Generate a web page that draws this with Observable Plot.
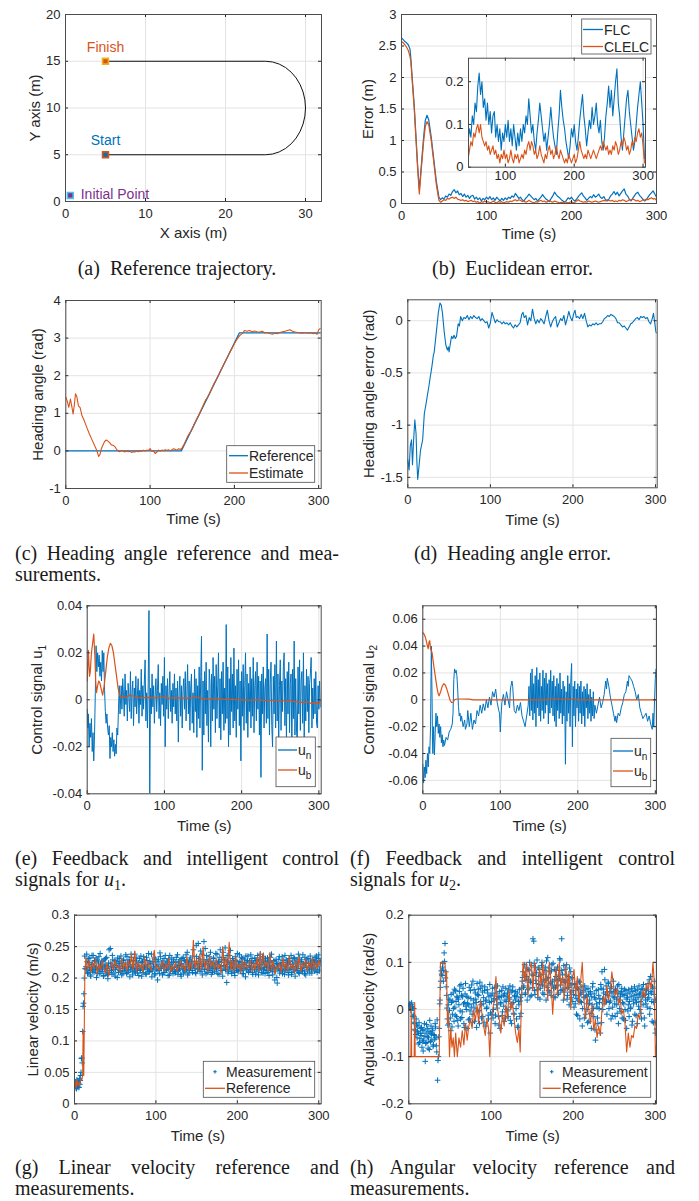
<!DOCTYPE html>
<html><head><meta charset="utf-8">
<script src="https://cdn.jsdelivr.net/npm/d3@7"></script>
<script src="https://cdn.jsdelivr.net/npm/@observablehq/plot@0.6"></script>
<style>
body{margin:0;background:#fff;}
#root{position:relative;width:699px;height:1201px;overflow:hidden;background:#fff;}
.cap{position:absolute;font-family:"Liberation Serif","Times New Roman",serif;font-size:20px;line-height:21px;color:#1a1a1a;white-space:nowrap;}
.cap sub{font-size:0.7em;line-height:0;vertical-align:-0.25em;}
</style></head>
<body><div id="root"></div>
<script>
// ---------------- DATA ----------------
// (a) reference trajectory
const trajA = [[5,5],[25,5],[25.868,5.076],[26.71,5.302],[27.5,5.67],[28.214,6.17],[28.83,6.786],[29.33,7.5],[29.698,8.29],[29.924,9.132],[30,10],[29.924,10.868],[29.698,11.71],[29.33,12.5],[28.83,13.214],[28.214,13.83],[27.5,14.33],[26.71,14.698],[25.868,14.924],[25,15],[5,15]];
const pointsA = [{name:"Finish",x:5,y:15},{name:"Start",x:5,y:5},{name:"Initial Point",x:0.6,y:0.65}];
const labelsA = [{name:"Finish",x:5,y:16.5},{name:"Start",x:5,y:6.5},{name:"Initial Point",x:1.9,y:0.75}];
const ticksAx = [0,10,20,30], ticksAy = [0,5,10,15,20];

// (b) Euclidean error
const flcEarly = [[0,2.63],[2,2.6],[4,2.57],[6,2.55],[8,2.52],[10,2.45],[11,2.3],[15,1.55],[19,0.6],[21,0.22],[23,0.55],[26,1.05],[28,1.32],[30,1.4],[32,1.33],[35,1.05],[38,0.7],[41,0.35],[44,0.1]];
const clelcEarly = [[0,2.57],[2,2.55],[4,2.52],[6,2.48],[8,2.43],[10,2.33],[11,2.25],[15,1.5],[19,0.55],[21,0.15],[23,0.5],[26,0.98],[28,1.22],[30,1.3],[32,1.25],[35,1.0],[38,0.65],[41,0.3],[44,0.05]];
const lateStartB = 46, lateStepB = 2;
const flcLate = [
0.06,0.09,0.07,0.12,0.1,0.15,0.13,0.19,0.22,0.17,
0.2,0.14,0.16,0.11,0.15,0.1,0.13,0.08,0.12,0.13,
0.07,0.1,0.06,0.09,0.04,0.08,0.06,0.1,0.07,0.11,
0.06,0.09,0.05,0.1,0.07,0.04,0.08,0.05,0.09,0.06,
0.1,0.08,0.12,0.1,0.16,0.12,0.08,0.1,0.06,0.04,
0.08,0.11,0.15,0.12,0.09,0.06,0.08,0.04,0.07,0.1,
0.14,0.1,0.07,0.05,0.03,0.08,0.12,0.18,0.14,0.11,
0.09,0.06,0.04,0.02,0.05,0.09,0.07,0.1,0.06,0.04,
0.07,0.11,0.14,0.17,0.12,0.09,0.05,0.08,0.11,0.09,
0.14,0.1,0.12,0.15,0.1,0.08,0.11,0.06,0.04,0.07,
0.12,0.15,0.19,0.14,0.18,0.12,0.16,0.2,0.23,0.15,
0.12,0.07,0.04,0.08,0.12,0.16,0.18,0.13,0.1,0.07,
0.04,0.06,0.1,0.14,0.17,0.2,0.15,0.1,0.02];
const clelcLate = [
0.02,0.04,0.06,0.05,0.08,0.07,0.09,0.1,0.08,0.1,
0.07,0.06,0.05,0.06,0.04,0.05,0.03,0.04,0.05,0.03,
0.04,0.02,0.03,0.01,0.03,0.02,0.04,0.02,0.03,0.01,
0.02,0.04,0.02,0.01,0.03,0.02,0.03,0.01,0.02,0.03,
0.02,0.04,0.03,0.05,0.06,0.04,0.06,0.05,0.03,0.04,
0.02,0.03,0.05,0.03,0.02,0.01,0.03,0.02,0.04,0.05,
0.03,0.04,0.02,0.03,0.05,0.03,0.02,0.04,0.03,0.02,
0.01,0.02,0.01,0.03,0.02,0.01,0.02,0.03,0.01,0.02,
0.04,0.06,0.04,0.03,0.02,0.03,0.02,0.04,0.03,0.02,
0.03,0.04,0.03,0.02,0.03,0.04,0.05,0.04,0.06,0.05,
0.04,0.05,0.03,0.04,0.03,0.05,0.04,0.06,0.05,0.03,
0.04,0.06,0.05,0.07,0.06,0.04,0.05,0.03,0.04,0.06,
0.05,0.07,0.06,0.08,0.09,0.07,0.08,0.05,0.01];
const ticksBx = [0,100,200,300], ticksBy = [0,0.5,1,1.5,2,2.5,3];
const ticksInsetX = [100,200,300], ticksInsetY = [0,0.1,0.2];

// (c) heading angle
const headRef = [[0,0],[137,0],[206,3.14],[303,3.14]];
const headEst = [[0,1.43],[2,1.3],[3.5,1.16],[5.5,1.38],[7,1.2],[8.7,0.98],[10,1.2],[11.5,1.52],[13,1.45],[15,1.2],[17,1.15],[19,0.95],[22,0.8],[25,0.62],[28,0.45],[31,0.3],[34,0.15],[37,0.0],[39,-0.15],[40.5,-0.1],[42,0.05],[44,0.15],[46,0.25],[48,0.29],[50,0.26],[52,0.22],[54,0.16],[56,0.15],[58,0.12],[60,0.05],[62,0.0],[64,-0.02],[66,0.01],[68,-0.01],[70,-0.03],[72,0.0],[74,-0.02],[76,-0.01],[78,-0.04],[80,-0.02],[82,-0.03],[84,0.0],[86,-0.02],[88,0.0],[90,-0.01],[92,0.02],[94,0.0],[96,0.02],[98,0.01],[100,0.06],[102,-0.01],[104,0.0],[106,-0.07],[108,-0.03],[110,0.02],[112,0.0],[114,0.02],[116,0.01],[118,0.03],[120,0.01],[122,0.03],[124,0.0],[126,0.03],[128,0.06],[130,0.04],[132,0.02],[134,0.06],[136,0.04],[138,0.08],[140,0.16],[142,0.26],[144,0.36],[146,0.44],[148,0.5],[150,0.58],[152,0.7],[154,0.78],[156,0.88],[158,0.96],[160,1.06],[162,1.16],[164,1.26],[166,1.36],[168,1.42],[170,1.5],[172,1.6],[174,1.7],[176,1.8],[178,1.88],[180,1.96],[182,2.05],[184,2.15],[186,2.24],[188,2.33],[190,2.42],[192,2.5],[194,2.6],[196,2.68],[198,2.76],[200,2.85],[202,2.93],[204,3.0],[206,3.06],[208,3.1],[210,3.14],[212,3.2],[215,3.18],[218,3.2],[221,3.17],[224,3.19],[227,3.17],[230,3.16],[233,3.18],[236,3.14],[239,3.15],[242,3.12],[245,3.1],[248,3.13],[251,3.12],[254,3.15],[257,3.17],[260,3.18],[263,3.2],[266,3.22],[269,3.18],[272,3.16],[275,3.15],[278,3.14],[281,3.13],[284,3.15],[287,3.13],[290,3.14],[293,3.12],[296,3.13],[298,3.1],[300,3.22],[302,3.26]];
const ticksCx = [0,100,200,300], ticksCy = [-1,0,1,2,3,4];

// (d) heading angle error
const headErr = [[0,-1.33],[1.6,-1.43],[3,-1.2],[4.5,-1.14],[5.7,-1.38],[7,-1.15],[8.5,-0.95],[10,-1.08],[11,-1.35],[12,-1.52],[13.5,-1.4],[15.4,-1.24],[17,-1.18],[18,-1.14],[20,-0.89],[22,-0.8],[24,-0.7],[25.5,-0.63],[27,-0.55],[29,-0.45],[31,-0.33],[32,-0.3],[34,-0.15],[35.6,-0.03],[37,0.08],[39,0.17],[40.5,0.15],[42,0.07],[44,-0.1],[46,-0.23],[47,-0.26],[48,-0.28],[49,-0.25],[50,-0.3],[51.5,-0.22],[53,-0.15],[54.5,-0.17],[56,-0.14],[57.5,-0.17],[59,-0.15],[61,-0.03],[62.5,-0.05],[64,0.04],[66,0.0],[68,0.03],[70,0.02],[72,0.05],[74,0.01],[76,0.04],[78,0.02],[80,0.05],[82,0.03],[84,0.02],[86,0.04],[88,0.0],[90,0.02],[92,0.0],[94,-0.02],[96,-0.01],[98,-0.07],[100,-0.02],[102,0.08],[104,0.03],[106,-0.02],[108,0.01],[110,-0.01],[112,-0.01],[114,-0.03],[116,-0.01],[118,-0.03],[120,-0.02],[122,-0.04],[124,-0.02],[126,-0.05],[128,-0.07],[130,-0.04],[132,-0.06],[134,-0.04],[136,-0.02],[138,0.06],[139.5,0.08],[141,0.03],[143,0.05],[145,-0.04],[147,0.03],[149,0.0],[151,0.11],[153,0.02],[155,-0.03],[157,0.01],[159,-0.02],[161,0.02],[163,0.0],[165,-0.03],[167,0.04],[169,0.1],[171,0.0],[173,-0.06],[175,-0.01],[177,0.02],[179,0.04],[181,-0.06],[183,-0.02],[185,0.02],[187,0.0],[189,0.05],[191,-0.04],[193,0.02],[195,0.09],[197,0.03],[199,0.0],[201,0.07],[202.5,0.1],[204,0.03],[206,0.04],[208,0.02],[210,0.06],[212,0.02],[214,0.07],[216,0.0],[218,-0.06],[220,-0.04],[222,-0.05],[224,-0.03],[226,-0.04],[228,-0.02],[230,-0.04],[232,-0.03],[234,-0.03],[236,-0.01],[238,0.02],[240,0.03],[242,0.05],[244,0.04],[246,0.06],[248,0.05],[250,0.04],[252,0.02],[254,-0.02],[256,-0.02],[258,-0.04],[260,-0.06],[262,-0.05],[264,-0.07],[266,-0.09],[268,-0.06],[270,-0.03],[272,-0.02],[274,0.0],[276,0.02],[278,0.03],[280,0.01],[282,0.04],[284,0.03],[286,0.04],[288,0.02],[290,0.03],[292,-0.01],[294,-0.03],[296,0.02],[297.5,0.07],[299,-0.02],[300.5,-0.11],[302,-0.12]];
const ticksDx = [0,100,200,300], ticksDy = [-1.5,-1,-0.5,0];

// (e) control signal u1
const u1nEarly = [[0,-0.004],[1,-0.012],[1.5,-0.006],[2.5,-0.02],[3.5,-0.01],[4.5,-0.016],[5.5,-0.008],[6.5,-0.022],[7.5,-0.014],[8.5,-0.026],[9.5,-0.015],[10.5,0.003],[11.5,0.023],[12.5,0.012],[13.5,0.02],[14.5,0.014],[15.5,0.019],[16.5,0.01],[17.5,0.016],[18.5,0.008],[19.5,0.021],[20.5,0.012],[21.5,0.02],[22.5,0.004],[23.5,-0.005],[24.5,-0.01],[25.5,-0.006],[26.5,-0.012],[27.5,-0.015],[28.5,-0.011],[29.5,-0.025],[30.5,-0.016],[31.5,-0.02],[32.5,-0.014],[33.5,-0.022],[34.5,-0.017],[35.5,-0.024],[36.5,-0.019],[37.5,-0.023],[38.5,-0.012],[39.5,-0.015],[40.5,-0.004],[41.5,0.006],[42.5,-0.006]];
const u1nStart = 44, u1nStep = 1;
const u1nLate = [
0.006,-0.004,0.009,0.002,-0.007,0.011,-0.002,0.004,-0.009,0.007,
0.001,-0.005,0.012,-0.008,0.003,0.008,-0.011,0.005,-0.003,0.01,
-0.006,0.002,0.009,-0.01,0.004,-0.002,0.013,-0.007,0.006,-0.004,
0.008,0.017,-0.009,0.003,-0.012,0.007,0.038,-0.04,0.005,-0.006,
0.011,-0.003,0.006,-0.01,0.002,0.009,-0.005,0.004,0.015,-0.008,
0.003,-0.011,0.007,-0.002,0.01,-0.007,0.018,-0.02,0.006,-0.004,
0.009,-0.008,0.002,0.012,-0.005,0.004,-0.01,0.007,-0.003,0.011,
-0.006,0.005,-0.009,0.008,-0.018,0.003,0.01,-0.007,0.006,-0.012,
0.004,0.009,-0.004,0.012,-0.009,0.002,0.015,-0.006,0.008,-0.013,
0.005,0.011,-0.01,0.003,-0.014,0.013,-0.005,0.009,-0.016,0.006,
-0.008,0.014,-0.012,0.01,0.027,-0.03,0.008,-0.015,0.012,-0.006,
0.016,-0.011,0.004,-0.018,0.013,0.007,-0.02,0.011,-0.009,0.018,
-0.004,0.01,-0.014,0.015,-0.008,0.006,0.02,-0.012,0.009,-0.017,
0.012,-0.006,0.016,-0.013,0.005,-0.01,0.032,-0.008,0.014,-0.02,
0.009,-0.015,0.018,-0.005,0.011,-0.012,0.022,-0.009,0.006,-0.016,
0.013,-0.004,0.017,-0.011,0.008,-0.026,0.012,-0.007,0.015,-0.013,
0.006,0.02,-0.01,0.011,-0.016,0.007,-0.005,0.014,-0.012,0.009,
-0.007,0.018,-0.014,0.006,0.012,-0.009,0.016,-0.004,0.01,-0.015,
0.008,-0.033,0.011,-0.006,0.014,-0.012,0.005,0.009,-0.01,0.028,
-0.008,0.013,-0.015,0.007,0.016,-0.011,-0.02,0.01,-0.006,0.015,
-0.012,0.025,-0.009,0.011,-0.016,0.006,0.017,-0.013,0.008,-0.005,
0.014,0.02,-0.011,0.009,-0.017,0.012,-0.006,0.016,-0.014,0.007,
0.011,-0.022,0.013,-0.008,0.025,-0.015,0.009,-0.012,-0.02,0.014,
-0.006,0.017,-0.013,0.008,0.012,-0.01,0.02,-0.016,0.006,-0.009,
0.013,-0.005,0.01,-0.014,0.007,0.011,0.018,-0.012,0.005,-0.008,
0.009,-0.006,0.012,-0.01,-0.012,0.006,-0.004,0.008,-0.003];
const u1b = [[0,0.008],[1.5,0.021],[3,0.01],[4,0.012],[5.5,0.02],[7,0.024],[8.5,0.028],[10,0.018],[11,0.008],[12,0.003],[13.5,0.006],[15,0.008],[16.5,0.007],[18.5,0.004],[20,0.002],[22,0.006],[24,0.012],[26,0.018],[28,0.022],[30,0.024],[32,0.023],[34,0.02],[36,0.015],[38,0.01],[40,0.005],[42,0.002],[44,0.001],[46,0.0012],[50,0.001],[55,0.002],[60,0.0015],[65,0.001],[70,0.0008],[80,0.001],[90,0.0008],[100,0.0012],[105,0.0006],[110,0.0008],[120,0.0008],[130,0.0006],[140,0.0012],[145,0.001],[150,0.0004],[160,0.0004],[170,0.0003],[180,0.0002],[190,0.0002],[200,0.0],[210,-0.0002],[220,0.0],[230,-0.0003],[240,-0.0002],[250,-0.0005],[260,-0.0003],[270,-0.0008],[280,-0.0012],[285,-0.0008],[290,-0.0015],[295,-0.0012],[300,-0.0016],[303,0.0]];
const ticksEx = [0,100,200,300], ticksEy = [-0.04,-0.02,0,0.02,0.04];

// (f) control signal u2
const u2n = [[0,-0.048],[1,-0.062],[2,-0.05],[3,-0.058],[4,-0.045],[5,-0.055],[6,-0.04],[7,-0.05],[8,-0.035],[9,-0.04],[10,-0.02],[11,0.04],[12,0.0],[12.5,-0.03],[13,-0.04],[14,-0.02],[15,-0.041],[16,-0.025],[17,-0.01],[18,-0.02],[19,-0.012],[20,-0.025],[21,-0.018],[22,-0.028],[23,-0.02],[24,-0.032],[25,-0.026],[26,-0.035],[27,-0.03],[28,-0.034],[30,-0.028],[32,-0.03],[34,-0.024],[36,-0.022],[38,-0.018],[39,-0.01],[40,0.015],[41,0.023],[42,0.02],[43,0.022],[44,0.018],[45,0.008],[46,-0.005],[47,-0.012],[48,-0.01],[49,-0.016],[50,-0.012],[52,-0.02],[54,-0.015],[55,-0.022],[57,-0.018],[58,-0.008],[60,-0.02],[62,-0.01],[64,-0.022],[66,-0.015],[68,-0.018],[70,-0.008],[72,-0.012],[74,-0.004],[76,-0.01],[78,-0.003],[80,-0.008],[82,0.0],[84,-0.006],[86,0.002],[88,-0.004],[90,0.006],[92,0.002],[94,0.008],[96,-0.002],[98,-0.008],[99,-0.01],[100,-0.024],[101,-0.012],[102,-0.002],[104,0.004],[106,-0.004],[108,0.006],[110,0.0],[112,-0.006],[113,0.008],[115,0.014],[116,0.01],[117,0.0],[118,-0.008],[120,-0.01],[122,-0.004],[124,-0.008],[126,-0.002],[128,-0.012],[130,-0.016],[132,-0.02],[134,-0.012],[136,-0.004],
[137,0.01],[138,-0.012],[139,0.02],[140,-0.008],[141,0.023],[142,-0.015],[143,0.012],[144,-0.01],[145,0.018],[146,-0.02],[147,0.024],[148,-0.006],[149,0.015],[150,-0.012],[151,0.02],[152,-0.016],[153,0.01],[154,-0.008],[155,0.022],[156,-0.014],[157,0.016],[158,-0.01],[159,0.02],[160,-0.004],[161,0.012],[162,-0.018],[163,0.015],[164,-0.01],[165,0.022],[166,-0.006],[167,0.014],[168,-0.012],[169,0.018],[170,-0.016],[171,0.01],[172,-0.02],[173,0.016],[174,-0.008],[175,0.012],[176,-0.014],[177,0.02],[178,-0.01],[179,0.008],[180,-0.018],[181,0.014],[182,-0.012],[183,0.01],[184,-0.048],[185,0.006],[186,-0.016],[187,0.018],[188,-0.01],[189,0.012],[190,-0.02],[191,0.016],[192,0.027],[193,-0.035],[194,0.01],[195,-0.012],[196,0.014],[197,-0.02],[198,0.008],[199,-0.006],[200,0.012],[201,-0.016],[202,0.01],[203,-0.01],[204,0.014],[205,-0.018],[206,0.006],[207,-0.012],[208,0.01],[209,-0.02],[210,0.008],[211,-0.006],[212,0.012],[213,-0.014],[214,0.004],[215,-0.01],[216,0.008],[217,-0.016],[218,0.002],[219,-0.012],[220,0.006],[221,-0.014],[222,-0.004],
[224,-0.01],[226,-0.004],[228,0.002],[230,-0.006],[232,-0.002],[234,0.004],[236,0.014],[237,0.008],[238,0.016],[240,0.01],[242,0.002],[244,-0.004],[246,-0.01],[248,-0.016],[249,-0.012],[250,-0.017],[252,-0.01],[254,-0.012],[256,-0.006],[258,-0.002],[260,0.004],[262,0.006],[264,0.014],[265,0.01],[266,0.018],[268,0.016],[270,0.014],[272,0.01],[274,0.006],[276,0.0],[278,0.004],[280,-0.006],[282,-0.01],[284,-0.014],[286,-0.012],[288,-0.01],[290,-0.016],[292,-0.012],[294,-0.018],[296,-0.022],[297,-0.01],[298,-0.02],[299,0.0],[300,0.016],[301,0.023],[302,0.02]];
const u2b = [[0,0.05],[1.5,0.049],[3,0.047],[4.5,0.044],[6,0.04],[7,0.038],[8,0.043],[9,0.044],[10,0.038],[12,0.035],[14,0.026],[16,0.018],[18,0.01],[20,0.004],[21,0.003],[23,0.006],[25,0.01],[27,0.012],[29,0.011],[31,0.008],[33,0.004],[35,0.0],[37,-0.002],[39,-0.002],[41,0.0],[44,0.0006],[50,0.0006],[60,0.0005],[65,0.0],[160,0.0],[165,0.001],[170,0.0],[175,0.001],[180,0.0],[185,0.001],[190,0.0],[195,0.001],[200,0.0],[302,0.0]];
const ticksFx = [0,100,200,300], ticksFy = [-0.06,-0.04,-0.02,0,0.02,0.04,0.06];

// (g) linear velocity
const vMeasEarly = [[0,0.03],[0.5,0.025],[1,0.035],[1.5,0.028],[2,0.032],[2.5,0.024],[3,0.038],[3.5,0.03],[4,0.027],[4.5,0.036],[5,0.033],[5.5,0.026],[6,0.04],[6.5,0.031],[7,0.037],[7.5,0.045],[8,0.05],[8.5,0.072],[9,0.073],[9.5,0.065],[10,0.115],[10.5,0.155],[11,0.16],[11.5,0.175],[12,0.2],[12.5,0.235],[13,0.215]];
const vMeasStart = 14, vMeasStep = 1;
const vMeas = [
0.218,0.238,0.207,0.225,0.212,0.232,0.203,0.221,0.214,0.236,
0.209,0.226,0.216,0.201,0.229,0.213,0.234,0.207,0.222,0.218,
0.211,0.227,0.204,0.219,0.231,0.208,0.215,0.199,0.224,0.212,
0.247,0.218,0.206,0.229,0.214,0.221,0.203,0.226,0.217,0.232,
0.209,0.223,0.212,0.235,0.205,0.219,0.228,0.211,0.216,0.237,
0.207,0.224,0.213,0.229,0.202,0.218,0.233,0.21,0.222,0.215,
0.238,0.208,0.227,0.214,0.219,0.204,0.231,0.212,0.225,0.216,
0.209,0.234,0.217,0.221,0.206,0.228,0.213,0.239,0.21,0.223,
0.215,0.202,0.226,0.218,0.232,0.207,0.221,0.214,0.197,0.229,
0.212,0.24,0.216,0.224,0.205,0.219,0.231,0.209,0.222,0.213,
0.227,0.204,0.218,0.236,0.211,0.225,0.215,0.207,0.229,0.217,
0.21,0.233,0.219,0.206,0.226,0.214,0.222,0.203,0.231,0.216,
0.208,0.228,0.213,0.237,0.218,0.205,0.224,0.212,0.232,0.219,
0.226,0.209,0.245,0.216,0.221,0.207,0.234,0.214,0.255,0.222,
0.211,0.243,0.218,0.205,0.229,0.258,0.214,0.223,0.236,0.209,
0.227,0.213,0.219,0.241,0.206,0.224,0.216,0.232,0.21,0.221,
0.215,0.238,0.207,0.226,0.219,0.245,0.212,0.229,0.203,0.233,
0.22,0.248,0.214,0.193,0.227,0.211,0.236,0.218,0.225,0.207,
0.231,0.216,0.222,0.204,0.228,0.213,0.239,0.21,0.219,0.226,
0.212,0.233,0.207,0.221,0.215,0.229,0.202,0.224,0.217,0.235,
0.209,0.226,0.214,0.219,0.231,0.206,0.223,0.213,0.228,0.218,
0.211,0.236,0.205,0.222,0.216,0.229,0.209,0.234,0.214,0.221,
0.207,0.227,0.218,0.232,0.212,0.204,0.225,0.215,0.238,0.21,
0.219,0.228,0.197,0.213,0.223,0.192,0.216,0.23,0.208,0.221,
0.214,0.234,0.211,0.225,0.206,0.219,0.229,0.213,0.222,0.205,
0.227,0.216,0.236,0.209,0.221,0.214,0.231,0.203,0.224,0.218,
0.212,0.238,0.207,0.226,0.215,0.229,0.21,0.222,0.217,0.233,
0.205,0.224,0.213,0.231,0.219,0.208,0.227,0.214,0.222,0.216,
0.229,0.211,0.225,0.235,0.209,0.221,0.237,0.214,0.226];
const vMeas2Start = 14.5, vMeas2Step = 1;
const vMeas2 = [
0.214,0.226,0.209,0.231,0.217,0.205,0.222,0.236,0.211,0.219,
0.228,0.213,0.232,0.218,0.207,0.224,0.215,0.239,0.21,0.227,
0.216,0.203,0.229,0.214,0.221,0.233,0.206,0.219,0.245,0.209,
0.223,0.212,0.236,0.217,0.208,0.228,0.214,0.22,0.201,0.226,
0.218,0.231,0.21,0.224,0.215,0.207,0.229,0.216,0.222,0.212,
0.234,0.209,0.219,0.226,0.213,0.238,0.217,0.205,0.228,0.211,
0.221,0.215,0.232,0.208,0.224,0.218,0.212,0.235,0.203,0.226,
0.214,0.229,0.219,0.207,0.233,0.216,0.222,0.21,0.227,0.213,
0.238,0.211,0.224,0.216,0.205,0.23,0.218,0.226,0.212,0.219,
0.207,0.234,0.215,0.222,0.227,0.209,0.218,0.236,0.213,0.224,
0.216,0.23,0.205,0.221,0.214,0.232,0.219,0.226,0.211,0.208,
0.225,0.217,0.237,0.212,0.22,0.229,0.206,0.223,0.215,0.233,
0.218,0.21,0.226,0.214,0.241,0.221,0.208,0.229,0.216,0.224,
0.212,0.235,0.219,0.227,0.209,0.252,0.223,0.215,0.231,0.218,
0.226,0.211,0.238,0.219,0.222,0.214,0.247,0.207,0.229,0.216,
0.221,0.234,0.212,0.226,0.218,0.209,0.231,0.215,0.224,0.239,
0.213,0.222,0.227,0.206,0.233,0.218,0.225,0.212,0.241,0.219,
0.229,0.214,0.222,0.236,0.208,0.225,0.217,0.244,0.211,0.223,
0.216,0.228,0.209,0.234,0.219,0.226,0.212,0.221,0.237,0.214,
0.225,0.218,0.231,0.207,0.222,0.216,0.235,0.213,0.228,0.21,
0.22,0.214,0.237,0.225,0.209,0.223,0.217,0.232,0.206,0.227,
0.218,0.229,0.213,0.221,0.238,0.215,0.224,0.208,0.226,0.217,
0.231,0.212,0.222,0.209,0.227,0.219,0.233,0.214,0.22,0.205,
0.226,0.217,0.211,0.229,0.201,0.222,0.215,0.234,0.212,0.224,
0.219,0.207,0.228,0.216,0.236,0.213,0.221,0.225,0.209,0.231,
0.214,0.222,0.206,0.227,0.218,0.233,0.211,0.224,0.216,0.229,
0.221,0.209,0.232,0.215,0.226,0.212,0.237,0.219,0.207,0.224,
0.217,0.23,0.211,0.223,0.214,0.235,0.22,0.208,0.228,0.216,
0.222,0.233,0.213,0.226,0.218,0.231,0.211,0.228];
const vRefEarly = [[0,0.03],[1,0.035],[2,0.025],[3,0.038],[4,0.03],[5,0.033],[6,0.028],[7,0.036],[8,0.04],[9,0.038],[10,0.045],[10.6,0.117],[11.4,0.045],[12.7,0.207]];
const vRefStart = 14, vRefStep = 2;
const vRef = [
0.234,0.212,0.228,0.209,0.226,0.215,0.231,0.206,0.222,0.213,
0.228,0.217,0.208,0.224,0.203,0.219,0.226,0.212,0.229,0.216,
0.22,0.209,0.232,0.214,0.225,0.211,0.229,0.216,0.238,0.213,
0.243,0.21,0.226,0.215,0.222,0.209,0.233,0.214,0.227,0.218,
0.212,0.23,0.244,0.214,0.221,0.212,0.218,0.228,0.211,0.223,
0.215,0.232,0.209,0.22,0.213,0.226,0.211,0.218,0.229,0.214,
0.222,0.21,0.235,0.212,0.226,0.214,0.26,0.216,0.23,0.211,
0.238,0.213,0.25,0.215,0.228,0.209,0.236,0.218,0.226,0.212,
0.231,0.215,0.222,0.208,0.25,0.214,0.234,0.211,0.257,0.213,
0.228,0.21,0.235,0.216,0.222,0.208,0.23,0.213,0.226,0.215,
0.219,0.229,0.21,0.224,0.213,0.233,0.211,0.242,0.214,0.24,
0.218,0.226,0.21,0.241,0.212,0.228,0.206,0.22,0.214,0.225,
0.209,0.232,0.213,0.227,0.211,0.236,0.215,0.222,0.208,0.229,
0.213,0.235,0.21,0.224,0.216,0.231,0.211,0.226,0.214,0.233,
0.212,0.227,0.215,0.229,0.218];
const ticksGx = [0,100,200,300], ticksGy = [0,0.05,0.1,0.15,0.2,0.25,0.3];

// (h) angular velocity
const wMeasStart = 0, wMeasStep = 1;
const wMeas = [
0.008,0.012,0.003,0.01,0.006,-0.015,0.002,-0.03,-0.045,-0.02,
-0.06,-0.035,-0.05,-0.07,-0.04,-0.055,-0.08,-0.045,-0.065,-0.03,
-0.11,-0.05,-0.07,-0.04,-0.06,-0.085,-0.05,-0.035,-0.065,-0.045,
-0.075,-0.055,-0.03,-0.06,-0.09,-0.15,-0.1,-0.04,0.02,0.06,
0.075,0.09,0.06,0.12,0.14,0.08,0.03,-0.02,0.01,-0.03,
0.02,-0.045,0.015,-0.01,0.035,-0.025,0.005,0.04,-0.015,0.025,
-0.035,0.01,0.05,-0.02,0.03,-0.005,0.045,-0.03,0.015,0.055,
0.0,-0.04,0.025,0.01,-0.02,0.04,0.005,-0.01,0.06,0.02,
-0.025,0.035,0.015,0.055,-0.005,0.03,-0.03,0.045,0.01,0.05,
-0.015,0.025,0.04,-0.035,0.02,0.005,0.035,-0.02,0.015,-0.05,
0.03,-0.01,0.045,0.0,0.02,-0.03,0.035,0.01,0.05,-0.015,
0.025,-0.04,0.015,0.04,-0.005,0.03,-0.025,0.02,0.045,0.0,
0.035,-0.015,0.025,0.05,0.005,-0.03,0.04,0.015,-0.01,0.03,
0.02,-0.02,0.035,-0.035,0.01,-0.015,0.025,0.045,0.06,0.08,
0.05,0.095,0.035,0.07,0.02,0.085,0.045,0.1,0.06,0.03,
0.075,0.15,0.145,0.04,0.09,0.055,0.105,0.025,0.07,0.085,
0.045,0.06,0.1,0.035,0.075,0.05,0.09,0.02,0.065,0.11,
0.04,0.08,0.055,0.03,0.095,0.06,0.045,0.085,0.025,0.07,
0.05,0.09,0.035,0.065,0.105,0.04,0.15,0.075,0.02,0.06,
0.085,0.045,0.095,0.03,0.07,0.01,0.055,0.08,0.025,0.065,
0.04,0.005,0.055,0.03,-0.01,0.045,0.02,0.06,-0.02,0.035,
0.015,-0.035,0.04,0.025,0.05,-0.01,0.03,0.0,0.045,-0.025,
0.02,0.035,-0.04,0.01,0.055,-0.015,0.025,-0.065,0.04,0.005,
-0.03,0.03,0.015,-0.05,0.045,0.08,0.0,0.035,0.085,0.02,
0.05,-0.01,0.03,0.055,0.015,0.045,-0.02,0.035,0.005,0.06,
0.025,-0.015,0.04,0.01,0.05,-0.03,0.02,0.035,-0.005,0.045,
0.015,-0.02,0.03,0.0,0.04,-0.04,0.025,0.01,-0.015,0.035,
0.005,0.045,-0.025,0.02,0.03,-0.01,0.04,0.015,-0.03,0.025,
0.05,0.0,0.035,-0.02,0.045,0.01,0.03,-0.035,0.02,0.04,
0.005,0.055,0.025,-0.01,0.07,0.035,-0.025,0.045,0.015,0.06,
-0.05,0.02,-0.04];
const wMeas2Start = 0.5, wMeas2Step = 1;
const wMeas2 = [
0.007,0.011,-0.002,0.014,0.003,-0.012,-0.027,-0.042,-0.053,-0.033,
-0.047,-0.073,-0.028,-0.062,-0.051,-0.038,-0.067,-0.088,-0.043,-0.057,
-0.072,-0.032,-0.058,-0.082,-0.047,-0.023,-0.068,-0.052,-0.041,-0.078,
-0.053,-0.063,-0.037,-0.077,-0.022,-0.108,-0.058,0.012,0.047,0.082,
0.072,0.098,0.083,0.102,0.067,0.048,0.003,-0.033,0.022,-0.002,
-0.018,0.032,-0.037,0.018,0.002,0.043,-0.012,0.017,0.028,-0.023,
0.022,0.038,-0.003,0.053,-0.017,0.027,0.012,-0.038,0.033,0.007,
0.028,0.013,-0.022,0.047,-0.003,0.023,0.052,-0.028,0.012,0.042,
0.003,0.022,-0.038,0.032,0.043,-0.002,0.058,0.017,-0.018,0.037,
0.012,-0.027,0.048,0.018,0.002,0.042,-0.012,0.027,0.053,-0.007,
0.017,0.033,-0.018,0.023,0.047,-0.012,0.022,0.003,0.028,-0.033,
0.038,0.012,0.027,-0.013,0.048,0.007,0.033,-0.018,0.017,0.028,
-0.003,0.043,0.022,-0.023,0.037,0.012,0.048,-0.008,0.027,0.038,
0.002,0.028,-0.038,0.017,0.042,0.018,-0.008,0.032,0.068,0.047,
0.073,0.032,0.062,0.088,0.042,0.063,0.082,0.027,0.057,0.093,
0.047,0.072,0.098,0.032,0.062,0.078,0.042,0.088,0.053,0.022,
0.073,0.093,0.052,0.063,0.032,0.083,0.062,0.103,0.047,0.068,
0.088,0.037,0.058,0.082,0.052,0.098,0.027,0.063,0.047,0.083,
0.062,0.032,0.073,0.108,0.052,0.083,0.042,0.063,0.093,0.037,
0.057,0.073,0.022,0.062,0.047,0.088,0.037,0.052,0.068,0.017,
0.032,0.053,0.012,0.047,0.023,-0.013,0.042,0.058,0.017,0.032,
0.048,0.002,0.037,-0.018,0.027,0.043,0.012,-0.028,0.032,0.013,
0.038,-0.008,0.027,0.048,0.002,0.033,-0.043,0.022,0.012,-0.018,
0.042,0.002,0.023,0.053,-0.028,0.022,0.043,0.012,0.063,0.032,
0.017,0.038,0.058,0.002,0.037,0.018,0.048,-0.013,0.027,0.038,
0.012,0.043,0.022,-0.008,0.033,0.053,0.002,0.027,0.038,-0.018,
0.032,0.012,0.043,-0.023,0.022,0.033,-0.003,0.042,0.017,0.002,
0.027,-0.033,0.038,0.012,0.048,0.022,-0.013,0.032,0.043,0.007,
0.033,0.017,-0.008,0.042,0.027,0.053,-0.018,0.032,0.012,0.043,
0.022,0.033,0.063,0.002,0.038,0.017,0.048,-0.028,0.032,0.022,
-0.028,-0.043];
const wRef = [[0,-0.1],[2.5,-0.1],[3,0.01],[3.5,-0.1],[6.5,-0.1],[7.2,0.015],[7.8,-0.1],[37,-0.1],[38.5,0.1],[44,0.1],[45,0.06],[46,0.08],[47,-0.03],[48,0.0],[49.5,-0.1],[51,-0.04],[52.5,-0.08],[54,-0.06],[55.5,-0.1],[57,-0.05],[59,-0.1],[61,-0.06],[63,-0.08],[65,-0.045],[67,-0.075],[69,-0.03],[71,-0.065],[73,-0.035],[75,-0.02],[77,-0.04],[79,0.0],[81,-0.025],[83,0.01],[85,-0.03],[87,0.02],[89,-0.01],[91,-0.035],[93,-0.055],[95,-0.02],[97,-0.04],[98.5,-0.1],[100,-0.03],[102,0.0],[104,0.02],[106,0.07],[108,0.0],[110,-0.02],[112,-0.05],[114,-0.01],[116,-0.035],[118,0.01],[120,-0.02],[122,0.04],[124,0.0],[126,0.015],[128,-0.02],[130,-0.05],[132,-0.07],[134,-0.04],[135.5,-0.09],[137,0.02],[139,0.1],[141,0.06],[143,0.1],[145,0.03],[147,0.085],[149,0.1],[151,0.04],[153,0.1],[155,0.06],[157,0.025],[159,0.09],[161,0.05],[163,0.1],[165,0.04],[167,0.085],[169,0.02],[171,0.1],[173,0.06],[175,-0.01],[177,0.05],[179,0.09],[181,0.03],[183,0.1],[185,0.05],[187,0.07],[189,0.02],[191,0.095],[193,0.04],[195,0.08],[197,0.0],[199,0.065],[201,0.085],[203,0.03],[205,0.07],[207,0.01],[209,0.06],[211,0.1],[213,0.02],[215,-0.02],[217,0.03],[219,0.0],[221,-0.03],[223,0.01],[225,-0.045],[227,-0.02],[229,-0.06],[231,-0.035],[233,-0.055],[235,0.0],[237,0.03],[239,0.01],[241,0.05],[243,0.02],[245,0.04],[247,0.08],[249,0.05],[251,0.03],[253,0.045],[255,0.01],[257,0.025],[259,-0.01],[261,0.0],[263,-0.03],[265,-0.09],[267,-0.05],[269,-0.08],[271,-0.055],[273,-0.06],[275,-0.035],[277,-0.04],[279,-0.01],[281,-0.02],[283,0.02],[285,0.04],[287,0.025],[289,0.055],[291,0.04],[293,0.06],[295,0.045],[297,0.1],[298.5,0.06],[300,-0.1],[302,-0.06]];
const ticksHx = [0,100,200,300], ticksHy = [-0.2,-0.1,0,0.1,0.2];

// ---------------- DRAWING ----------------
const BLUE = "#0072BD", ORANGE = "#D95319", PURPLE = "#7E2F8E", YELLOW = "#EDB120", CYAN = "#4DBEEE";
const GRID = "#e3e3e3", AXIS = "#262626", FRAME = "#4d4d4d";
const FONT = "'Liberation Sans', Arial, Helvetica, sans-serif";
const root = document.getElementById("root");
const series = (vals, t0, step) => vals.map((v, i) => [t0 + i * step, v]);
const X = d => d[0], Y = d => d[1];

function panel(c) {
  const [x0, y0, x1, y1] = c.frame;
  const mL = x0 - c.left, mT = y0 - c.top, mR = c.left + c.width - x1, mB = c.top + c.height - y1;
  const ih = y1 - y0, iw = x1 - x0, tl = 3;
  const fmt = d => String(d);
  const m = [];
  if (c.bg) m.push(Plot.frame({fill: c.bg}));
  m.push(Plot.ruleX(c.xTicks, {x: d => d, stroke: GRID}));
  m.push(Plot.ruleY(c.yTicks, {y: d => d, stroke: GRID}));
  m.push(...c.marks);
  m.push(Plot.tickX(c.xTicks, {x: d => d, stroke: AXIS, insetTop: ih - tl}));
  m.push(Plot.tickX(c.xTicks, {x: d => d, stroke: AXIS, insetBottom: ih - tl}));
  m.push(Plot.tickY(c.yTicks, {y: d => d, stroke: AXIS, insetRight: iw - tl}));
  m.push(Plot.tickY(c.yTicks, {y: d => d, stroke: AXIS, insetLeft: iw - tl}));
  m.push(Plot.frame({stroke: FRAME}));
  m.push(Plot.axisX({ticks: c.xTicks, tickSize: 0, tickPadding: c.padX ?? 7, tickFormat: fmt, label: null}));
  m.push(Plot.axisY({ticks: c.yTicks, tickSize: 0, tickPadding: c.padY ?? 5, tickFormat: fmt, label: null}));
  if (c.xLabel) m.push(Plot.text([c.xLabel], {frameAnchor: "bottom", dy: c.xOff, text: d => d, fontSize: 15, textAnchor: "middle", lineAnchor: "middle"}));
  if (c.yLabel) m.push(Plot.text([c.yLabel], {frameAnchor: "left", dx: -c.yOff, text: d => d, fontSize: 15, rotate: -90, textAnchor: "middle", lineAnchor: "middle"}));
  const svg = Plot.plot({
    width: c.width, height: c.height,
    marginLeft: mL, marginRight: mR, marginTop: mT, marginBottom: mB,
    x: {domain: c.xDomain, label: null}, y: {domain: c.yDomain, label: null},
    style: {fontFamily: FONT, fontSize: "13px", color: AXIS, background: "transparent", overflow: "visible"},
    marks: m
  });
  svg.style.position = "absolute";
  svg.style.left = c.left + "px";
  svg.style.top = c.top + "px";
  root.appendChild(svg);
  return {svg, left: c.left, top: c.top};
}

function legend(p, box, items) {
  const g = d3.select(p.svg).append("g").attr("font-family", FONT).attr("font-size", 14)
    .attr("fill", AXIS).attr("text-anchor", "start");
  g.append("rect").attr("x", box[0] - p.left).attr("y", box[1] - p.top)
    .attr("width", box[2] - box[0]).attr("height", box[3] - box[1])
    .attr("fill", "white").attr("stroke", FRAME).attr("stroke-width", 0.8);
  for (const it of items) {
    const y = it.y - p.top;
    if (it.kind === "line") {
      g.append("line").attr("x1", it.l0 - p.left).attr("x2", it.l1 - p.left).attr("y1", y).attr("y2", y)
        .attr("stroke", it.color).attr("stroke-width", 1.3);
    } else {
      const cx = it.l0 - p.left, s = 1.8;
      g.append("path").attr("d", `M${cx - s},${y}H${cx + s}M${cx},${y - s}V${y + s}`).attr("stroke", it.color).attr("stroke-width", 1.1);
    }
    const t = g.append("text").attr("x", it.tx - p.left).attr("y", y).attr("dy", "0.36em").text(it.label);
    if (it.sub) t.append("tspan").attr("dy", "0.35em").attr("font-size", 10).text(it.sub);
  }
}

function subscriptLabel(p, base, sub) {
  d3.select(p.svg).selectAll("text").filter(function () { return this.textContent === base; })
    .each(function () { d3.select(this).append("tspan").attr("dy", "0.35em").attr("font-size", 10).text(sub); });
}

const colorOf = {"Finish": ORANGE, "Start": BLUE, "Initial Point": PURPLE};
const edgeOf = {"Finish": YELLOW, "Start": ORANGE, "Initial Point": CYAN};

// (a)
panel({left: 0, top: 0, width: 350, height: 250, frame: [65, 14, 321, 201],
  xDomain: [0, 32], yDomain: [0, 20], xTicks: ticksAx, yTicks: ticksAy,
  xLabel: "X axis (m)", xOff: 32, yLabel: "Y axis (m)", yOff: 30,
  marks: [
    Plot.line(trajA, {x: X, y: Y, stroke: "#111", strokeWidth: 1}),
    Plot.dot(pointsA, {x: "x", y: "y", symbol: "square", r: 3.3, strokeWidth: 1.6,
      fill: d => colorOf[d.name], stroke: d => edgeOf[d.name]}),
    Plot.text(labelsA.filter(d => d.name !== "Initial Point"), {x: "x", y: "y", text: "name", fontSize: 14,
      textAnchor: "middle", fill: d => colorOf[d.name]}),
    Plot.text(labelsA.filter(d => d.name === "Initial Point"), {x: "x", y: "y", text: "name", fontSize: 14,
      textAnchor: "start", fill: d => colorOf[d.name]})
  ]});

// (b)
const flc = flcEarly.concat(series(flcLate, lateStartB, lateStepB));
const clelc = clelcEarly.concat(series(clelcLate, lateStartB, lateStepB));
const pB = panel({left: 350, top: 0, width: 349, height: 250, frame: [401, 14, 656, 203],
  xDomain: [0, 300], yDomain: [0, 3], xTicks: ticksBx, yTicks: ticksBy,
  xLabel: "Time (s)", xOff: 31, yLabel: "Error (m)", yOff: 33,
  marks: [
    Plot.line(flc, {x: X, y: Y, stroke: BLUE, strokeWidth: 1.2, clip: true}),
    Plot.line(clelc, {x: X, y: Y, stroke: ORANGE, strokeWidth: 1.2, clip: true})
  ]});
legend(pB, [581.7, 19, 651, 54], [
  {kind: "line", color: BLUE, l0: 583, l1: 603, tx: 604, y: 29.5, label: "FLC"},
  {kind: "line", color: ORANGE, l0: 583, l1: 603, tx: 604, y: 46.5, label: "CLELC"}]);
// inset
const flcLatePts = series(flcLate, lateStartB, lateStepB), clelcLatePts = series(clelcLate, lateStartB, lateStepB);
panel({left: 420, top: 50, width: 232, height: 140, frame: [468, 57.7, 645, 166.7],
  xDomain: [46.5, 303.5], yDomain: [0, 0.255], xTicks: ticksInsetX, yTicks: ticksInsetY, bg: "white",
  padX: 4, padY: 5,
  marks: [
    Plot.line(flcLatePts, {x: X, y: Y, stroke: BLUE, strokeWidth: 1.1, clip: true}),
    Plot.line(clelcLatePts, {x: X, y: Y, stroke: ORANGE, strokeWidth: 1.1, clip: true})
  ]});

// (c)
const pC = panel({left: 0, top: 280, width: 350, height: 250, frame: [65.3, 300, 320.7, 488],
  xDomain: [0, 303], yDomain: [-1, 4], xTicks: ticksCx, yTicks: ticksCy,
  xLabel: "Time (s)", xOff: 31, yLabel: "Heading angle (rad)", yOff: 28,
  marks: [
    Plot.line(headRef, {x: X, y: Y, stroke: BLUE, strokeWidth: 1.3, clip: true}),
    Plot.line(headEst, {x: X, y: Y, stroke: ORANGE, strokeWidth: 1.1, clip: true})
  ]});
legend(pC, [226.7, 445.7, 314.7, 482.3], [
  {kind: "line", color: BLUE, l0: 229, l1: 248, tx: 249, y: 455.7, label: "Reference"},
  {kind: "line", color: ORANGE, l0: 229, l1: 248, tx: 249, y: 473, label: "Estimate"}]);

// (d)
panel({left: 350, top: 280, width: 349, height: 250, frame: [407.3, 299.3, 656.7, 487.3],
  xDomain: [0, 302], yDomain: [-1.6, 0.2], xTicks: ticksDx, yTicks: ticksDy,
  xLabel: "Time (s)", xOff: 32, yLabel: "Heading angle error (rad)", yOff: 39,
  marks: [Plot.line(headErr, {x: X, y: Y, stroke: BLUE, strokeWidth: 1.1, clip: true})]});

// (e)
const u1n = u1nEarly.concat(series(u1nLate, u1nStart, u1nStep));
const pE = panel({left: 0, top: 590, width: 350, height: 250, frame: [86.7, 605.3, 320.7, 793.3],
  xDomain: [0, 303], yDomain: [-0.04, 0.04], xTicks: ticksEx, yTicks: ticksEy,
  xLabel: "Time (s)", xOff: 32, yLabel: "Control signal u", yOff: 50,
  marks: [
    Plot.line(u1n, {x: X, y: Y, stroke: BLUE, strokeWidth: 1, clip: true}),
    Plot.line(u1b, {x: X, y: Y, stroke: ORANGE, strokeWidth: 1.2, clip: true})
  ]});
subscriptLabel(pE, "Control signal u", "1");
legend(pE, [276, 737, 315.3, 786.7], [
  {kind: "line", color: BLUE, l0: 278, l1: 297, tx: 298, y: 750, label: "u", sub: "n"},
  {kind: "line", color: ORANGE, l0: 278, l1: 297, tx: 298, y: 770, label: "u", sub: "b"}]);

// (f)
const pF = panel({left: 350, top: 590, width: 349, height: 250, frame: [422.3, 605.3, 656, 793.3],
  xDomain: [0, 301.5], yDomain: [-0.07, 0.07], xTicks: ticksFx, yTicks: ticksFy,
  xLabel: "Time (s)", xOff: 32, yLabel: "Control signal u", yOff: 54,
  marks: [
    Plot.line(u2n, {x: X, y: Y, stroke: BLUE, strokeWidth: 1, clip: true}),
    Plot.line(u2b, {x: X, y: Y, stroke: ORANGE, strokeWidth: 1.2, clip: true})
  ]});
subscriptLabel(pF, "Control signal u", "2");
legend(pF, [611, 738.3, 650.7, 786.7], [
  {kind: "line", color: BLUE, l0: 613, l1: 633, tx: 634, y: 751, label: "u", sub: "n"},
  {kind: "line", color: ORANGE, l0: 613, l1: 633, tx: 634, y: 771, label: "u", sub: "b"}]);

// (g)
const vMeasPts = vMeasEarly.concat(series(vMeas, vMeasStart, vMeasStep), series(vMeas2, vMeas2Start, vMeas2Step));
const vRefPts = vRefEarly.concat(series(vRef, vRefStart, vRefStep));
const pG = panel({left: 0, top: 900, width: 350, height: 240, frame: [74, 914.7, 320.7, 1103.3],
  xDomain: [0, 303], yDomain: [0, 0.3], xTicks: ticksGx, yTicks: ticksGy,
  xLabel: "Time (s)", xOff: 32, yLabel: "Linear velocity (m/s)", yOff: 41,
  marks: [
    Plot.dot(vMeasPts, {x: X, y: Y, symbol: "plus", r: 2, stroke: BLUE, strokeWidth: 1, clip: true}),
    Plot.line(vRefPts, {x: X, y: Y, stroke: ORANGE, strokeWidth: 1.1, clip: true})
  ]});
legend(pG, [203.3, 1061.3, 314.7, 1097.3], [
  {kind: "plus", color: BLUE, l0: 215, tx: 226, y: 1071.7, label: "Measurement"},
  {kind: "line", color: ORANGE, l0: 205, l1: 225, tx: 226, y: 1088.3, label: "Reference"}]);

// (h)
const wMeasPts = series(wMeas, wMeasStart, wMeasStep).concat(series(wMeas2, wMeas2Start, wMeas2Step));
const pH = panel({left: 350, top: 900, width: 349, height: 240, frame: [408.3, 914.7, 656, 1103.3],
  xDomain: [0, 301.3], yDomain: [-0.2, 0.2], xTicks: ticksHx, yTicks: ticksHy,
  xLabel: "Time (s)", xOff: 32, yLabel: "Angular velocity (rad/s)", yOff: 40,
  marks: [
    Plot.dot(wMeasPts, {x: X, y: Y, symbol: "plus", r: 2, stroke: BLUE, strokeWidth: 1, clip: true}),
    Plot.line(wRef, {x: X, y: Y, stroke: ORANGE, strokeWidth: 1.1, clip: true})
  ]});
legend(pH, [540, 1061.3, 650.7, 1097.3], [
  {kind: "plus", color: BLUE, l0: 551.7, tx: 562, y: 1071.7, label: "Measurement"},
  {kind: "line", color: ORANGE, l0: 542.7, l1: 560.7, tx: 562, y: 1088.3, label: "Reference"}]);

// ---------------- CAPTIONS ----------------
const captions = [
  {x: 15, y: 258, w: 324, align: "center", lines: ["(a)\u2002Reference trajectory."]},
  {x: 350, y: 258, w: 325, align: "center", lines: ["(b)\u2002Euclidean error."]},
  {x: 15, y: 543, w: 324, align: "justify", lines: ["(c) Heading angle reference and mea-", "surements."]},
  {x: 350, y: 543, w: 325, align: "center", lines: ["(d)\u2002Heading angle error."]},
  {x: 15, y: 848, w: 324, align: "justify", lines: ["(e) Feedback and intelligent control", "signals for <i>u</i><sub>1</sub>."]},
  {x: 350, y: 848, w: 325, align: "justify", lines: ["(f) Feedback and intelligent control", "signals for <i>u</i><sub>2</sub>."]},
  {x: 15, y: 1157, w: 324, align: "justify", lines: ["(g) Linear velocity reference and", "measurements."]},
  {x: 350, y: 1157, w: 325, align: "justify", lines: ["(h) Angular velocity reference and", "measurements."]}
];
for (const c of captions) {
  c.lines.forEach((ln, i) => {
    const d = document.createElement("div");
    d.className = "cap";
    d.style.left = c.x + "px";
    d.style.top = (c.y + i * 21) + "px";
    d.style.width = c.w + "px";
    if (c.align === "center") d.style.textAlign = "center";
    else if (i < c.lines.length - 1) { d.style.textAlign = "justify"; d.style.textAlignLast = "justify"; d.style.whiteSpace = "normal"; }
    else d.style.textAlign = "left";
    d.innerHTML = ln;
    root.appendChild(d);
  });
}
</script>
</body></html>
